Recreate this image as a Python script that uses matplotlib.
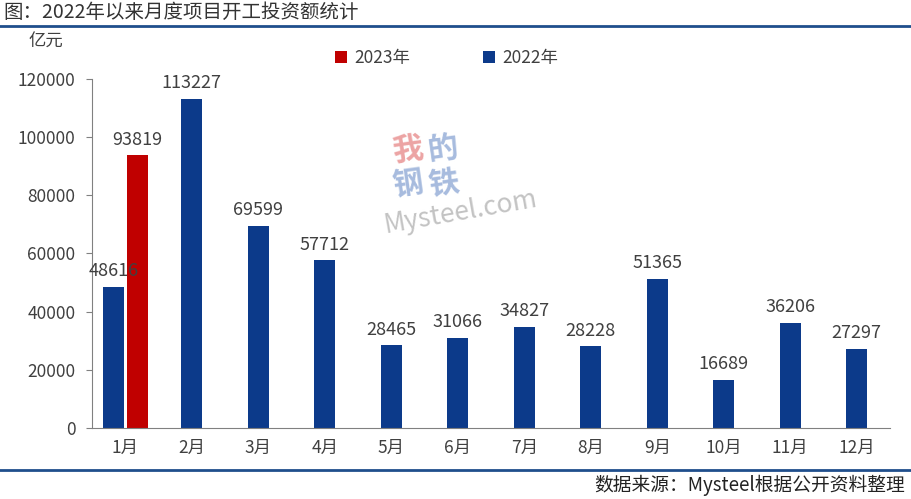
import matplotlib.pyplot as plt
import numpy as np

plt.rcParams['font.family'] = ['Noto Sans CJK SC', 'DejaVu Sans']

months = ['1月', '2月', '3月', '4月', '5月', '6月', '7月', '8月', '9月', '10月', '11月', '12月']
v2022 = [48616, 113227, 69599, 57712, 28465, 31066, 34827, 28228, 51365, 16689, 36206, 27297]
v2023 = [93819]

blue = '#0C3A8A'
red = '#C00000'
txt = '#404040'

fig = plt.figure(figsize=(9.11, 4.99), dpi=100)
ax = fig.add_axes([0.101, 0.142, 0.876, 0.700])

x = np.arange(len(months))
w = 0.31
pos22 = x.astype(float)
pos22[0] = x[0] - 0.18
pos23 = x[:len(v2023)] + 0.18

ax.bar(pos22, v2022, width=w, color=blue, label='2022年')
ax.bar(pos23, v2023, width=w, color=red, label='2023年')

for p, v in zip(pos22, v2022):
    ax.text(p, v + 2200, str(v), ha='center', va='bottom', fontsize=13, color=txt, clip_on=False)
for p, v in zip(pos23, v2023):
    ax.text(p, v + 2200, str(v), ha='center', va='bottom', fontsize=13, color=txt, clip_on=False)

ax.set_xlim(-0.5, 11.5)
ax.set_ylim(0, 120000)
ax.set_yticks(np.arange(0, 120001, 20000))
ax.set_xticks(x)
ax.set_xticklabels(months)
ax.tick_params(axis='y', labelsize=12.5, colors=txt, length=4, color='#808080', pad=8)
ax.tick_params(axis='x', labelsize=12.5, colors=txt, length=0, pad=8)
for s in ['top', 'right']:
    ax.spines[s].set_visible(False)
ax.spines['left'].set_color('#808080')
ax.spines['bottom'].set_color('#808080')

# legend, 2023 first
h, l = ax.get_legend_handles_labels()
fig.legend(h[::-1], l[::-1], loc='center', bbox_to_anchor=(0.49, 0.884), ncol=2,
           frameon=False, fontsize=12.5, handlelength=0.7, handleheight=0.7,
           handletextpad=0.4, columnspacing=4.2, labelcolor=txt)

fig.text(0.031, 0.916, '亿元', fontsize=12.5, color=txt, va='center')

# title and source
fig.text(0.004, 0.975, '图：2022年以来月度项目开工投资额统计', fontsize=14, color='#333333', va='center')
fig.add_artist(plt.Line2D([0.0, 1.0], [0.947, 0.947], color='#1F4E8C', lw=2))
fig.add_artist(plt.Line2D([0.0, 1.0], [0.059, 0.059], color='#1F4E8C', lw=2))
fig.text(0.993, 0.028, '数据来源：Mysteel根据公开资料整理', fontsize=13.5, color='#222222', ha='right', va='center')

# watermark
wm = [('我', 0.447, 0.70, '#E06666'), ('的', 0.487, 0.70, '#6C8EC8'),
      ('钢', 0.447, 0.63, '#6C8EC8'), ('铁', 0.487, 0.63, '#6C8EC8')]
for ch, xx, yy, c in wm:
    fig.text(xx, yy, ch, fontsize=22, color=c, alpha=0.6, ha='center', va='center',
             rotation=8, fontweight='bold')
fig.text(0.505, 0.575, 'Mysteel.com', fontsize=19, color='#AAAAAA', alpha=0.7, ha='center',
         va='center', rotation=10)

fig.savefig('out.png', dpi=100)
